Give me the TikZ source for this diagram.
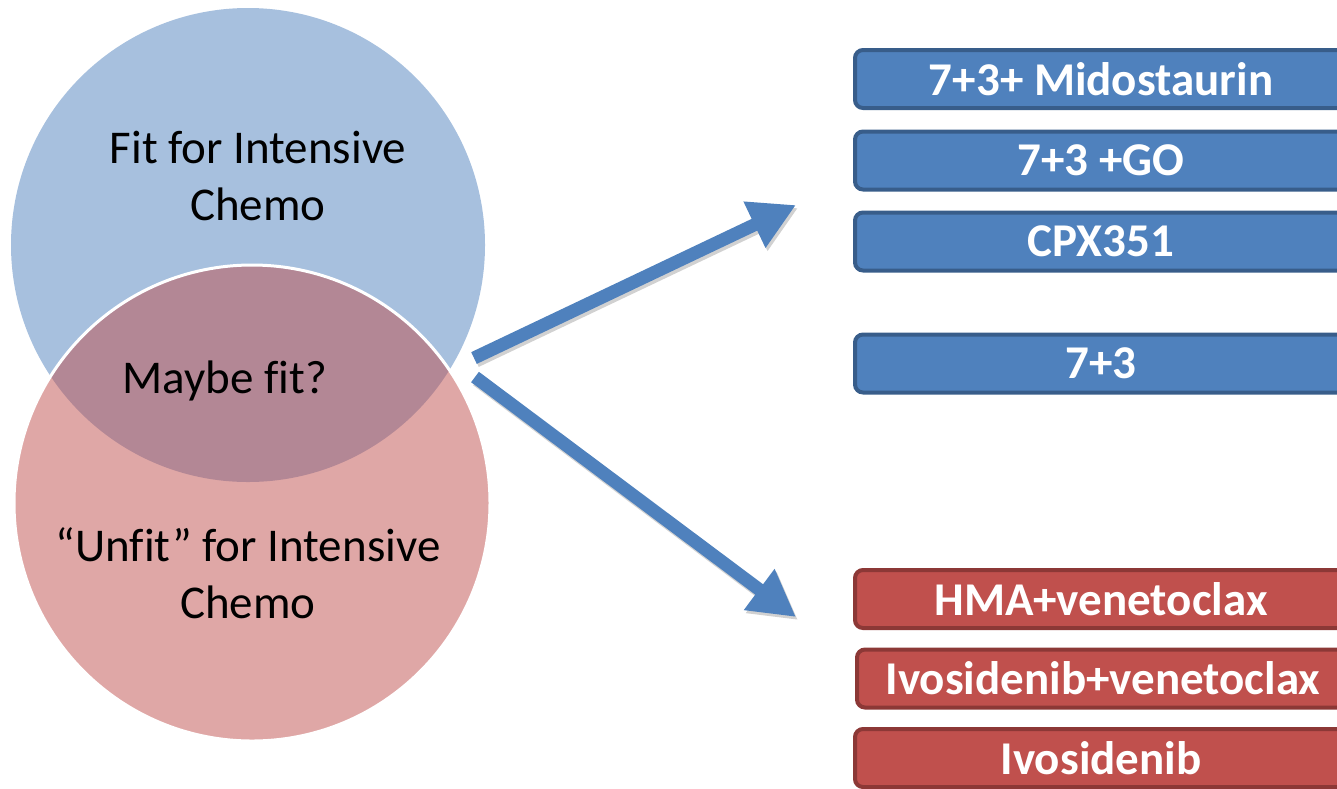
\documentclass[tikz,border=0pt]{standalone}
\usepackage{fontspec}
\setmainfont{Carlito}[Ligatures={TeX,NoCommon}]
\usepackage{xcolor}
\usepackage{tikz}
\usetikzlibrary{arrows.meta,positioning}

\definecolor{fitblue}{HTML}{4F81BD}
\definecolor{fitblueline}{HTML}{385D8A}
\definecolor{unfitred}{HTML}{C0504D}
\definecolor{unfitredline}{HTML}{8C3836}

\begin{document}
\begin{tikzpicture}[
    x=1pt, y=-1pt,
    txt/.style={font=\fontsize{47}{57}\selectfont, align=center, text=black, inner sep=0pt},
    blob/.style={circle, inner sep=0pt, fill opacity=0.5},
    tbox/.style={rectangle, rounded corners=8pt, line width=4pt, minimum width=492pt,
                 minimum height=58pt, inner sep=0pt, text=white,
                 font=\fontsize{47}{57}\selectfont\bfseries},
    bluebox/.style={tbox, fill=fitblue, draw=fitblueline},
    redbox/.style={tbox, fill=unfitred, draw=unfitredline},
    bigarr/.style={-{Triangle[length=46pt,width=48pt]}, line width=13pt, draw=fitblue},
    shade/.style={bigarr, draw=black, opacity=0.18}
]
\clip (0,0) rectangle (1337,788);
% Venn pair (left): fit on top, unfit drawn over it with a white rim
\node[blob, minimum size=474pt, fill=fitblue]                          (fit)   at (248,245) {};
\node[blob, minimum size=476pt, fill=unfitred, draw=white, line width=3pt] (unfit) at (252,503) {};
\node[txt] (fitTxt)   at (258,176) {Fit for Intensive\\Chemo};
\node[txt, anchor=base] (maybeTxt) at (225,393) {Maybe fit?};
\node[txt] (unfitTxt) at (248,573) {“Unfit” for Intensive\\Chemo};
% Treatment boxes (right), cut by the frame
\node[bluebox] (mido) at (1101,79)    {7+3+ Midostaurin};
\node[bluebox] (go)   at (1101,160.5) {7+3 +GO};
\node[bluebox] (cpx)  at (1101,241.5) {CPX351};
\node[bluebox] (std)  at (1101,363.5) {7+3};
\node[redbox]  (hma)  at (1101,599)   {HMA+venetoclax};
\node[redbox]  (ivov) at (1103,678.5) {Ivosidenib+venetoclax};
\node[redbox]  (ivo)  at (1101,758)   {Ivosidenib};
% Arrows out of the overlap
\coordinate (upFrom)   at (474,358);
\coordinate (upTo)     at (796,205);
\coordinate (downFrom) at (475,377);
\coordinate (downTo)   at (796,617);
\draw[shade] ([shift={(2,3)}]upFrom)   -- ([shift={(2,3)}]upTo);
\draw[shade] ([shift={(2,3)}]downFrom) -- ([shift={(2,3)}]downTo);
\draw[bigarr] (upFrom)   -- (upTo);
\draw[bigarr] (downFrom) -- (downTo);
\end{tikzpicture}
\end{document}
